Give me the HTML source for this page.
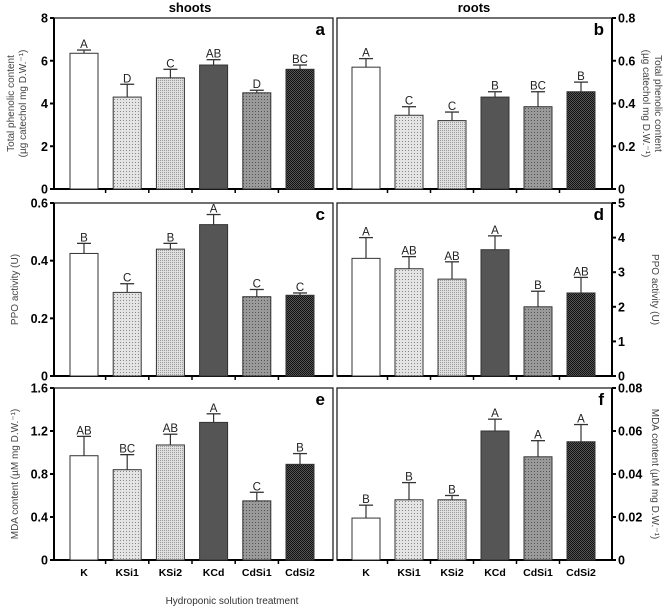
<!DOCTYPE html>
<html><head><meta charset="utf-8"><style>
html,body{margin:0;padding:0;background:#fff;width:670px;height:611px;overflow:hidden}
svg{display:block}
</style></head><body>
<svg id="chart" width="670" height="611" xmlns="http://www.w3.org/2000/svg" font-family="Liberation Sans, Arial, sans-serif">
<defs>
<pattern id="p1" width="3" height="3" patternUnits="userSpaceOnUse"><rect width="3" height="3" fill="#e4e4e4"/><rect width="1" height="1" fill="#888"/></pattern>
<pattern id="p2" width="2" height="2" patternUnits="userSpaceOnUse"><rect width="2" height="2" fill="#e0e0e0"/><rect width="1" height="1" fill="#999"/></pattern>
<pattern id="p4" width="3" height="3" patternUnits="userSpaceOnUse"><rect width="3" height="3" fill="#9a9a9a"/><rect width="1" height="1" fill="#555"/></pattern>
<pattern id="p5" width="2" height="2" patternUnits="userSpaceOnUse"><rect width="2" height="2" fill="#555"/><rect width="1" height="1" fill="#111"/><rect x="1" y="1" width="1" height="1" fill="#111"/></pattern>
</defs>
<text x="190" y="12" font-size="13" font-weight="bold" text-anchor="middle">shoots</text>
<text x="474" y="12" font-size="13" font-weight="bold" text-anchor="middle">roots</text>
<text x="232" y="604" font-size="10" text-anchor="middle" fill="#333">Hydroponic solution treatment</text>
<g id="plots"></g>
</svg>
<script>
const categories=["K","KSi1","KSi2","KCd","CdSi1","CdSi2"];
const fills=["#fff","url(#p1)","url(#p2)","#555","url(#p4)","url(#p5)"];
const valsA=[6.35,4.3,5.2,5.8,4.5,5.6];
const errA=[0.15,0.6,0.4,0.25,0.12,0.2];
const letA=["A","D","C","AB","D","BC"];
const valsB=[0.57,0.345,0.32,0.43,0.385,0.455];
const errB=[0.04,0.04,0.04,0.025,0.07,0.045];
const letB=["A","C","C","B","BC","B"];
const valsC=[0.425,0.29,0.44,0.525,0.275,0.28];
const errC=[0.035,0.03,0.02,0.035,0.025,0.008];
const letC=["B","C","B","A","C","C"];
const valsD=[3.4,3.1,2.8,3.65,2.0,2.4];
const errD=[0.6,0.35,0.5,0.4,0.45,0.45];
const letD=["A","AB","AB","A","B","AB"];
const valsE=[0.97,0.84,1.07,1.28,0.55,0.89];
const errE=[0.18,0.14,0.1,0.08,0.08,0.1];
const letE=["AB","BC","AB","A","C","B"];
const valsF=[0.0195,0.028,0.028,0.06,0.048,0.055];
const errF=[0.006,0.008,0.002,0.0055,0.0075,0.008];
const letF=["B","B","B","A","A","A"];
const ticksA=["0","2","4","6","8"],ticksB=["0","0.2","0.4","0.6","0.8"],ticksC=["0","0.2","0.4","0.6"];
const ticksD=["0","1","2","3","4","5"],ticksE=["0","0.4","0.8","1.2","1.6"],ticksF=["0","0.02","0.04","0.06","0.08"];
const NS="http://www.w3.org/2000/svg";
const root=document.getElementById('plots');
function mk(tag,attrs,parent,txt){const e=document.createElementNS(NS,tag);for(const k in attrs)e.setAttribute(k,attrs[k]);if(txt!==undefined)e.textContent=txt;(parent||root).appendChild(e);return e;}
const panels=[
 {id:"a",side:"L",top:18,bot:189,max:8,ticks:ticksA,v:valsA,e:errA,l:letA,title:["Total phenolic content","(µg catechol mg D.W.⁻¹)"]},
 {id:"b",side:"R",top:18,bot:189,max:0.8,ticks:ticksB,v:valsB,e:errB,l:letB,title:["Total phenolic content","(µg catechol mg D.W.⁻¹)"]},
 {id:"c",side:"L",top:203,bot:376,max:0.6,ticks:ticksC,v:valsC,e:errC,l:letC,title:["PPO activity (U)"]},
 {id:"d",side:"R",top:203,bot:376,max:5,ticks:ticksD,v:valsD,e:errD,l:letD,title:["PPO activity (U)"]},
 {id:"e",side:"L",top:388,bot:560,max:1.6,ticks:ticksE,v:valsE,e:errE,l:letE,title:["MDA content (µM mg D.W.⁻¹)"]},
 {id:"f",side:"R",top:388,bot:560,max:0.08,ticks:ticksF,v:valsF,e:errF,l:letF,title:["MDA content (µM mg D.W.⁻¹)"]}
];
panels.forEach(p=>{
 const L=p.side==="L";
 const x0=L?54:337,x1=L?333:612;
 const c0=L?84:366,step=L?43.2:43;
 const g=mk('g',{});
 
 
 const y=v=>p.bot-(v/p.max)*(p.bot-p.top);
 const fr=mk('rect',{x:x0,y:p.top,width:x1-x0,height:p.bot-p.top,fill:'none',stroke:'#222','stroke-width':1.3},g);
 
 
 const ax=L?x0:x1;
 mk('line',{x1:ax,y1:p.top,x2:ax,y2:p.bot,stroke:'#000','stroke-width':2},g);
 mk('line',{x1:x0,y1:p.bot,x2:x1,y2:p.bot,stroke:'#000','stroke-width':2},g);
 p.ticks.forEach((t,i)=>{
  const ty=y(parseFloat(t));
  mk('line',{x1:L?ax-4:ax,y1:ty,x2:L?ax:ax+4,y2:ty,stroke:'#000','stroke-width':2},g);
  const tl=mk('text',{x:L?ax-6:ax+6,y:ty+4.5,'font-size':12.5,'font-weight':'bold','text-anchor':L?'end':'start'},g,t);
  
  
 });
 for(let i=0;i<5;i++){const tx=c0+step*(i+0.5);mk('line',{x1:tx,y1:p.bot,x2:tx,y2:p.bot+4,stroke:'#000','stroke-width':1.5},g);}
 const pl=mk('text',{x:x1-8,y:p.top+17,'font-size':17,'font-weight':'bold','text-anchor':'end'},g,p.id);
 
 
 const cy=(p.top+p.bot)/2;
 const tx=L?(p.title.length>1?14:18):(p.title.length>1?655:652);
 const tt=mk('text',{x:0,y:0,'font-size':10,fill:'#444','text-anchor':'middle',transform:`translate(${tx},${cy}) rotate(${L?-90:90})`},g);
 
 
 p.title.forEach((s,i)=>{mk('tspan',{x:0,dy:i===0?0:12},tt,s);});
 p.v.forEach((v,i)=>{
  const cx=c0+step*i,w=28;
  const top=y(v),et=y(v+p.e[i]);
  mk('line',{x1:cx,y1:top,x2:cx,y2:et,stroke:'#333','stroke-width':1.2},g);
  mk('line',{x1:cx-7,y1:et,x2:cx+7,y2:et,stroke:'#333','stroke-width':1.3},g);
  const b=mk('rect',{x:cx-w/2,y:top,width:w,height:p.bot-top,fill:fills[i],stroke:'#333','stroke-width':1},g);
  
  
  const lt=mk('text',{x:cx,y:et-2,'font-size':11.5,'text-anchor':'middle',fill:'#222'},g,p.l[i]);
  
  
 });
 if(p.id==="e"||p.id==="f"){
  categories.forEach((c,i)=>{
   const cl=mk('text',{x:c0+step*i,y:p.bot+16,'font-size':10.5,'font-weight':'bold','text-anchor':'middle'},g,c);
   
   
  });
 }
});
</script>
</body></html>
